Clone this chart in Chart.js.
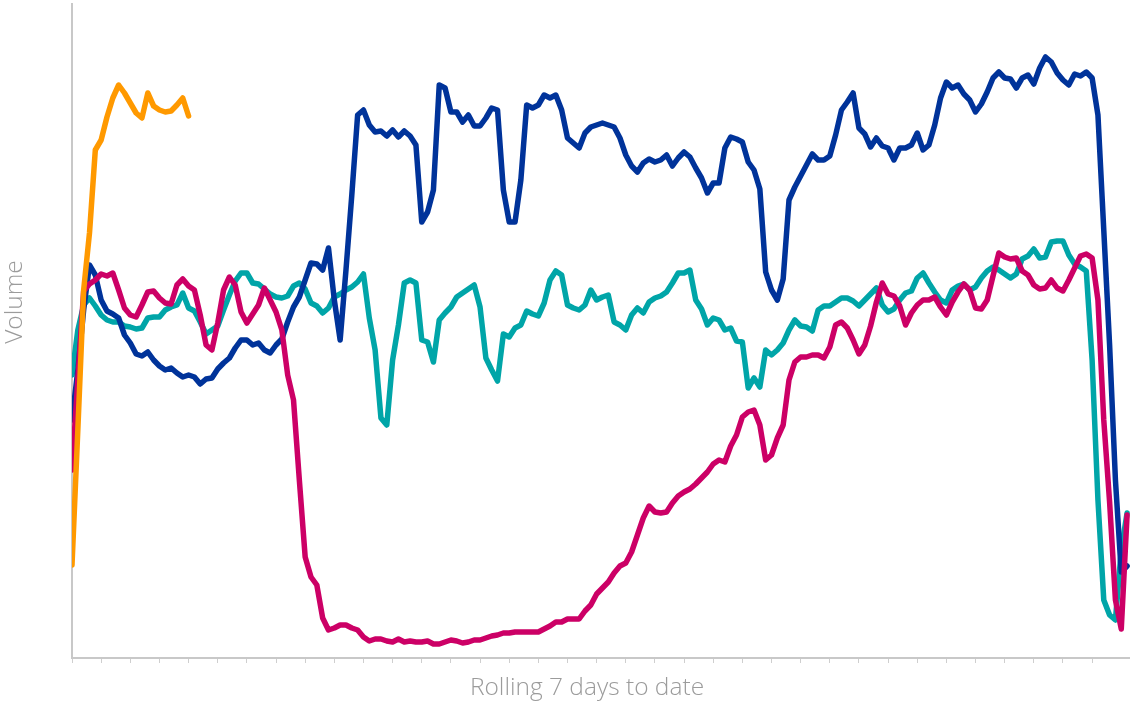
<!DOCTYPE html>
<html>
<head>
<meta charset="utf-8">
<title>Rolling 7 day volume</title>
<script src="https://cdn.jsdelivr.net/npm/chart.js@4.4.1/dist/chart.umd.min.js"></script>
<style>
  html, body { margin: 0; padding: 0; background: #fff; overflow: hidden; }
  #wrap { width: 1130px; height: 701px; }
</style>
</head>
<body>
<div id="wrap"><canvas id="chart" width="1130" height="701"></canvas></div>
<script>
// day offsets of each sample (every 2nd day)
const dayOffsets = Array.from({ length: 182 }, (_, i) => i * 2);
const axisMaxDay = 363;
const volumeMax = 654;

const orangeVolume = [
  93, 228, 368, 425, 508, 518, 541, 560, 573, 565,
  555, 545, 540, 565, 552, 548, 546, 547, 553, 560,
  542
];

const pinkVolume = [
  188, 278, 367, 374, 378, 384, 382, 385, 368, 350,
  343, 341, 353, 366, 367, 360, 355, 354, 373, 379,
  372, 368, 343, 313, 308, 335, 368, 381, 373, 346,
  335, 344, 353, 370, 358, 346, 328, 283, 258, 178,
  101, 81, 73, 40, 28, 30, 33, 33, 30, 28,
  21, 17, 19, 19, 17, 16, 19, 16, 17, 16,
  16, 17, 14, 14, 16, 18, 17, 15, 16, 18,
  18, 20, 22, 23, 25, 25, 26, 26, 26, 26,
  26, 29, 32, 36, 36, 39, 39, 39, 47, 53,
  64, 70, 76, 85, 92, 95, 106, 123, 140, 152,
  146, 145, 146, 155, 162, 166, 169, 174, 180, 186,
  194, 198, 196, 212, 223, 241, 246, 248, 233, 198,
  203, 220, 233, 278, 296, 301, 301, 303, 303, 300,
  311, 333, 336, 330, 318, 304, 313, 332, 356, 375,
  364, 362, 352, 333, 345, 353, 358, 358, 361, 351,
  343, 356, 366, 374, 368, 350, 349, 358, 382, 405,
  401, 399, 400, 387, 383, 373, 369, 370, 378, 370,
  367, 378, 390, 402, 404, 400, 358, 238, 156, 58,
  29, 143
];

const blueVolume = [
  238, 288, 348, 393, 383, 358, 347, 344, 340, 323,
  315, 304, 302, 306, 298, 292, 288, 290, 285, 281,
  283, 281, 274, 279, 280, 289, 295, 300, 310, 318,
  318, 313, 315, 308, 305, 313, 319, 336, 351, 361,
  378, 395, 394, 388, 410, 358, 318, 388, 463, 543,
  548, 533, 526, 527, 522, 528, 521, 527, 522, 513,
  436, 446, 468, 573, 570, 546, 546, 536, 543, 532,
  532, 540, 550, 548, 468, 436, 436, 478, 553, 550,
  553, 563, 560, 563, 548, 520, 515, 510, 525, 531,
  533, 535, 533, 531, 520, 503, 492, 486, 495, 499,
  496, 498, 503, 492, 500, 506, 501, 490, 480, 465,
  475, 475, 510, 521, 519, 516, 496, 488, 469, 386,
  368, 358, 379, 458, 471, 482, 493, 504, 498, 498,
  502, 523, 548, 556, 565, 530, 524, 511, 520, 512,
  510, 498, 510, 510, 513, 525, 508, 513, 533, 560,
  576, 570, 573, 564, 558, 546, 554, 566, 580, 586,
  580, 579, 570, 580, 583, 574, 590, 601, 596, 585,
  578, 573, 584, 582, 586, 580, 543, 428, 313, 178,
  86, 92
];

const tealVolume = [
  283, 328, 353, 360, 352, 343, 338, 336, 336, 332,
  331, 329, 330, 340, 341, 341, 348, 351, 353, 365,
  350, 347, 336, 324, 328, 332, 348, 363, 377, 385,
  385, 375, 374, 369, 364, 361, 360, 362, 372, 375,
  369, 355, 352, 345, 350, 361, 364, 368, 371, 376,
  384, 340, 308, 240, 233, 298, 333, 375, 378, 375,
  318, 316, 296, 338, 345, 351, 361, 365, 369, 373,
  351, 300, 288, 277, 324, 321, 330, 333, 347, 344,
  342, 355, 378, 387, 383, 353, 350, 348, 353, 368,
  358, 361, 363, 336, 333, 328, 343, 350, 345, 356,
  360, 362, 366, 375, 385, 385, 388, 358, 349, 333,
  340, 338, 328, 330, 317, 316, 270, 280, 271, 308,
  303, 308, 315, 328, 338, 332, 331, 327, 348, 352,
  352, 356, 360, 360, 357, 352, 358, 364, 370, 353,
  346, 349, 358, 365, 367, 380, 385, 375, 366, 358,
  355, 368, 372, 374, 368, 371, 380, 387, 391, 388,
  384, 380, 384, 399, 402, 409, 400, 401, 416, 417,
  417, 403, 394, 391, 387, 298, 158, 58, 43, 38,
  108, 145
];

const xAxisTitle = 'Rolling 7 days to date';
const yAxisTitle = 'Volume';

function toPoints(values) {
  return values.map((v, i) => ({ x: dayOffsets[i], y: v }));
}

function lineSet(values, color) {
  return {
    data: toPoints(values),
    borderColor: color,
    backgroundColor: color,
    borderWidth: 5.5,
    pointRadius: 0,
    tension: 0,
    fill: false,
    borderJoinStyle: 'round',
    borderCapStyle: 'round'
  };
}

// axis titles sit a little off the axis centres, so they are painted by hand
const axisTitles = {
  id: 'axisTitles',
  afterDraw(chart) {
    const { ctx, chartArea } = chart;
    ctx.save();
    ctx.fillStyle = '#9b9b9b';
    ctx.font = '300 24.5px "Open Sans", "Liberation Sans", sans-serif';
    ctx.textAlign = 'center';
    ctx.textBaseline = 'middle';
    ctx.fillText(xAxisTitle, chartArea.left + 515, chartArea.bottom + 30);
    ctx.translate(15, chartArea.top + 298);
    ctx.rotate(-Math.PI / 2);
    ctx.fillText(yAxisTitle, 0, 0);
    ctx.restore();
  }
};

new Chart(document.getElementById('chart'), {
  type: 'line',
  data: {
    // first dataset is painted on top
    datasets: [
      lineSet(orangeVolume, '#ff9900'),
      lineSet(pinkVolume, '#cc0066'),
      lineSet(blueVolume, '#00339a'),
      lineSet(tealVolume, '#00a5a8')
    ]
  },
  options: {
    responsive: false,
    animation: false,
    devicePixelRatio: 1,
    layout: { padding: { left: 72, top: 4, right: 0, bottom: 0 } },
    plugins: {
      legend: { display: false },
      tooltip: { enabled: false }
    },
    scales: {
      x: {
        type: 'linear',
        min: 0,
        max: axisMaxDay,
        afterFit: s => { s.height = 43; },
        afterBuildTicks: s => { s.ticks = s.ticks.filter(t => t.value % 10 === 0); },
        ticks: { display: false, stepSize: 10, maxTicksLimit: 100 },
        grid: { drawOnChartArea: false, drawTicks: true, tickLength: 5, color: '#cfcfcf', lineWidth: 1 },
        border: { display: true, color: '#c8c8c8', width: 2 }
      },
      y: {
        min: 0,
        max: volumeMax,
        afterFit: s => { s.width = 0; },
        ticks: { display: false },
        grid: { display: false, drawTicks: false },
        border: { display: true, color: '#c8c8c8', width: 2 }
      }
    }
  },
  plugins: [axisTitles]
});
</script>
</body>
</html>
